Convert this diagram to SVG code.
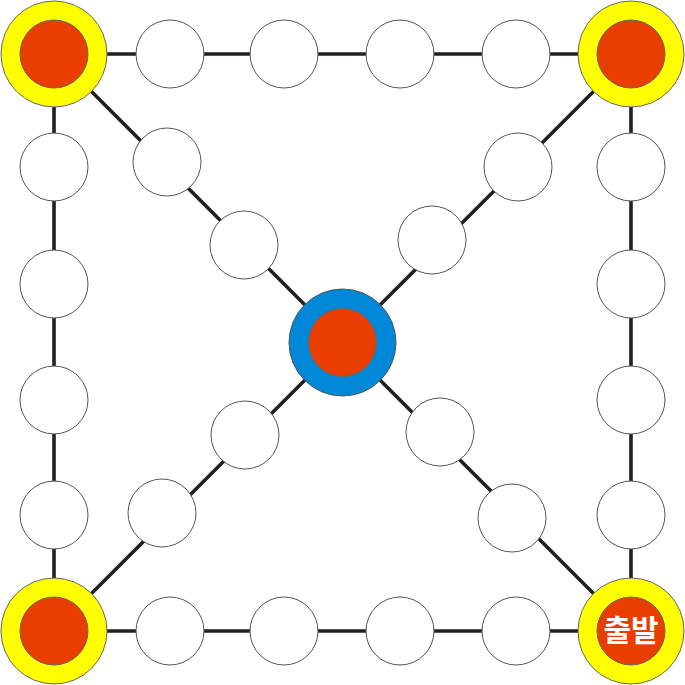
<svg xmlns="http://www.w3.org/2000/svg" width="685" height="685" viewBox="0 0 685 685">
<style>
.ln{stroke:#231f20;stroke-width:3.6;fill:none}
.s{fill:#fff;stroke:#555;stroke-width:1}
.y{fill:#ffff00;stroke:#666;stroke-width:1}
.b{fill:#0088d8;stroke:#555;stroke-width:1}
.r{fill:#e93e00;stroke:#666;stroke-width:1}
.t{fill:#fff;font-family:"Noto Sans CJK KR","Noto Sans",sans-serif;font-weight:bold;font-size:30px}
</style>
<rect width="685" height="685" fill="#fff"/>
<g id="connectors">
<path class="ln" d="M54 54H631V631H54Z"/>
<path class="ln" d="M54 54L342.5 342.5L631 631"/>
<path class="ln" d="M631 54L342.5 342.5L54 631"/>
</g>
<g id="corner-tl"><circle class="y" cx="54" cy="54" r="53"/><circle class="r" cx="54" cy="54" r="34"/></g>
<g id="corner-tr"><circle class="y" cx="631" cy="54" r="53"/><circle class="r" cx="631" cy="54" r="34"/></g>
<g id="corner-bl"><circle class="y" cx="54" cy="631" r="53"/><circle class="r" cx="54" cy="631" r="34"/></g>
<g id="corner-br"><circle class="y" cx="631" cy="631" r="53"/><circle class="r" cx="631" cy="631" r="34"/><text class="t" x="631" y="641" text-anchor="middle">출발</text></g>
<g id="center"><circle class="b" cx="342.5" cy="342.5" r="53.5"/><circle class="r" cx="342.5" cy="342.5" r="34"/></g>
<g id="top-1"><circle class="s" cx="170" cy="54" r="34"/></g>
<g id="top-2"><circle class="s" cx="284" cy="54" r="34"/></g>
<g id="top-3"><circle class="s" cx="400" cy="54" r="34"/></g>
<g id="top-4"><circle class="s" cx="516" cy="54" r="34"/></g>
<g id="bottom-1"><circle class="s" cx="170" cy="631" r="34"/></g>
<g id="bottom-2"><circle class="s" cx="284" cy="631" r="34"/></g>
<g id="bottom-3"><circle class="s" cx="400" cy="631" r="34"/></g>
<g id="bottom-4"><circle class="s" cx="516" cy="631" r="34"/></g>
<g id="left-1"><circle class="s" cx="54" cy="167" r="34"/></g>
<g id="left-2"><circle class="s" cx="54" cy="284" r="34"/></g>
<g id="left-3"><circle class="s" cx="54" cy="400" r="34"/></g>
<g id="left-4"><circle class="s" cx="54" cy="515" r="34"/></g>
<g id="right-1"><circle class="s" cx="631" cy="167" r="34"/></g>
<g id="right-2"><circle class="s" cx="631" cy="284" r="34"/></g>
<g id="right-3"><circle class="s" cx="631" cy="400" r="34"/></g>
<g id="right-4"><circle class="s" cx="631" cy="515" r="34"/></g>
<g id="diag-tl-1"><circle class="s" cx="167" cy="162" r="34"/></g>
<g id="diag-tl-2"><circle class="s" cx="244" cy="245" r="34"/></g>
<g id="diag-tr-1"><circle class="s" cx="518" cy="167" r="34"/></g>
<g id="diag-tr-2"><circle class="s" cx="432" cy="240" r="34"/></g>
<g id="diag-bl-1"><circle class="s" cx="245" cy="435" r="34"/></g>
<g id="diag-bl-2"><circle class="s" cx="162" cy="513" r="34"/></g>
<g id="diag-br-1"><circle class="s" cx="440" cy="432" r="34"/></g>
<g id="diag-br-2"><circle class="s" cx="512" cy="518" r="34"/></g>
</svg>
